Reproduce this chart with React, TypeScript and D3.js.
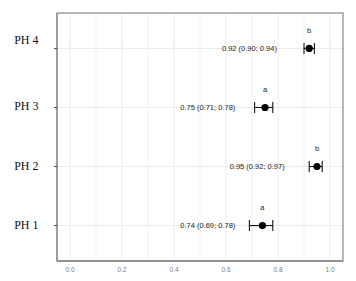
import React from "react";
import * as d3 from "d3";

const categories = ["PH 1", "PH 2", "PH 3", "PH 4"];
const estimates = [0.74, 0.95, 0.75, 0.92];
const lowers = [0.69, 0.92, 0.71, 0.9];
const uppers = [0.78, 0.97, 0.78, 0.94];
const groupLetters = ["a", "b", "a", "b"];
const xTicks = [0, 0.2, 0.4, 0.6, 0.8, 1.0];
const xMinor = [0.1, 0.3, 0.5, 0.7, 0.9];

const W = 356;
const H = 281;
const m = { left: 57, right: 13, top: 13, bottom: 20 };

export default function App() {
  const x = d3.scaleLinear().domain([-0.05, 1.05]).range([m.left, W - m.right]);
  const y = d3
    .scalePoint<string>()
    .domain(categories)
    .range([H - m.bottom, m.top])
    .padding(0.6);
  const fmt = d3.format(".2f");
  const sans = "'Liberation Sans', Arial, sans-serif";
  const serif = "'Liberation Serif', 'Times New Roman', serif";
  const x0 = m.left;
  const x1 = W - m.right;
  const y0 = m.top;
  const y1 = H - m.bottom;
  return (
    <svg
      width={W}
      height={H}
      style={{ position: "absolute", left: 0, top: 0, background: "#fff" }}
    >
      <rect x={x0} y={y0} width={x1 - x0} height={y1 - y0} fill="#fff" />
      {xMinor.map((t) => (
        <line key={"mi" + t} x1={x(t)} x2={x(t)} y1={y0} y2={y1} stroke="#eeeeee" strokeWidth={0.8} />
      ))}
      {xTicks.map((t) => (
        <line key={"ma" + t} x1={x(t)} x2={x(t)} y1={y0} y2={y1} stroke="#ebebeb" strokeWidth={1} />
      ))}
      {categories.map((c) => (
        <line key={"hg" + c} x1={x0} x2={x1} y1={y(c)!} y2={y(c)!} stroke="#ebebeb" strokeWidth={1} />
      ))}
      <rect x={x0} y={y0} width={x1 - x0} height={y1 - y0} fill="none" stroke="#6e6e6e" strokeWidth={1} />
      <line x1={x0} x2={x0} y1={y0} y2={y1} stroke="#9a9a9a" strokeWidth={1.6} />
      <line x1={x0} x2={x1} y1={y1} y2={y1} stroke="#6e6e6e" strokeWidth={1.2} />
      {categories.map((c, i) => (
        <g key={"yl" + c}>
          <line x1={x0 - 3} x2={x0} y1={y(c)!} y2={y(c)!} stroke="#444" strokeWidth={1} />
          <text
            x={38.5}
            y={y(c)! + (i === categories.length - 1 ? -8 : -1)}
            textAnchor="end"
            dominantBaseline="central"
            fontFamily={serif}
            fontSize={12}
            fill="#111"
          >
            {c}
          </text>
        </g>
      ))}
      {xTicks.map((t) => (
        <text
          key={"xl" + t}
          x={x(t)}
          y={269}
          textAnchor="middle"
          dominantBaseline="central"
          fontFamily={sans}
          fontSize={6.5}
          fill="#7a7a7a"
        >
          {d3.format(".1f")(t)}
        </text>
      ))}
      {categories.map((c, i) => {
        const cy = y(c)!;
        return (
          <g key={"pt" + c}>
            <line x1={x(lowers[i])} x2={x(uppers[i])} y1={cy} y2={cy} stroke="#111" strokeWidth={1.1} />
            <line x1={x(lowers[i])} x2={x(lowers[i])} y1={cy - 5.5} y2={cy + 5.5} stroke="#111" strokeWidth={1.1} />
            <line x1={x(uppers[i])} x2={x(uppers[i])} y1={cy - 5.5} y2={cy + 5.5} stroke="#111" strokeWidth={1.1} />
            <circle cx={x(estimates[i])} cy={cy} r={3.6} fill="#000" />
            <text
              x={x(estimates[i])}
              y={cy - 18}
              textAnchor="middle"
              dominantBaseline="central"
              fontFamily={sans}
              fontSize={7.5}
              fill="#222"
            >
              {groupLetters[i]}
            </text>
            <text
              x={x(uppers[i] - 0.25)}
              y={cy}
              textAnchor="middle"
              dominantBaseline="central"
              fontFamily={sans}
              fontSize={7.5}
              fill="#222"
            >
              {`${fmt(estimates[i])} (${fmt(lowers[i])}; ${fmt(uppers[i])})`}
            </text>
          </g>
        );
      })}
    </svg>
  );
}
